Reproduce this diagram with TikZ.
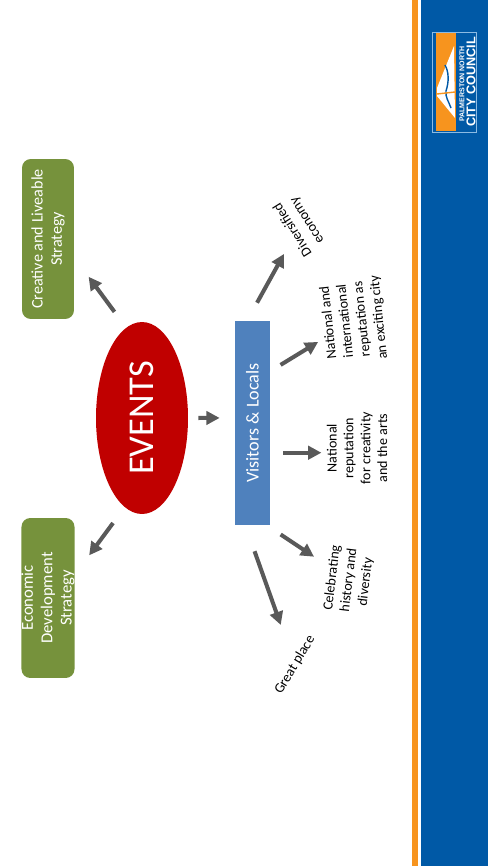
\documentclass[tikz,border=0pt]{standalone}
\usepackage{fontspec}
\setmainfont{Carlito}
\newfontfamily\logofont{Liberation Sans}
\usetikzlibrary{arrows.meta,shapes.geometric}
\definecolor{bannerblue}{HTML}{0059A6}
\definecolor{barorange}{HTML}{F7941E}
\definecolor{logoedge}{HTML}{8CBBE3}
\definecolor{eventsred}{HTML}{C00000}
\definecolor{stratgreen}{HTML}{76923C}
\definecolor{visitblue}{HTML}{4F81BD}
\definecolor{arrowgrey}{HTML}{595959}
\begin{document}
\begin{tikzpicture}[
        x=0.02cm, y=-0.02cm,
        font=\fontsize{8}{9.6}\selectfont,
        strategy/.style={
            rectangle, rounded corners=5pt, fill=stratgreen,
            text=white, rotate=90, align=center,
            minimum width=3.2cm, minimum height=1.04cm, inner sep=0pt
        },
        outcome/.style={align=center, inner sep=0pt, text=black},
        arr/.style={
            -{Triangle[length=7.5pt,width=7.5pt]},
            line width=2.3pt, color=arrowgrey
        }
    ]
    \useasboundingbox (0, 0) rectangle (488, 866);

    % Banner on the right
    \fill[barorange] (412, 0) rectangle (418, 866);
    \fill[bannerblue] (421, 0) rectangle (488, 866);

    % Logo
    \fill[logoedge] (432, 32) rectangle (477, 133);
    \fill[bannerblue] (433, 33) rectangle (476, 132);
    \fill[barorange] (436, 33) rectangle (456, 131);
    \fill[white] (454, 46) -- (437, 88) -- (437, 96) -- (455, 118) -- cycle;
    \draw[bannerblue, thick] (445, 65) .. controls (449, 72) and (449, 82) .. (446, 91)
        .. controls (445, 97) and (449, 102) .. (451, 108);
    \draw[barorange, thick] (437, 94) -- (455, 92);
    \node[font=\logofont\bfseries\fontsize{4}{5}\selectfont, text=white, rotate=90,
        inner sep=0pt] (logotop) at (462, 84) {PALMERSTON NORTH};
    \node[font=\logofont\bfseries\fontsize{7.2}{8}\selectfont, text=white, rotate=90,
        inner sep=0pt] (logomain) at (471, 82) {CITY COUNCIL};

    % Centre
    \node[ellipse, fill=eventsred, text=white, rotate=90, inner sep=0pt,
        minimum width=3.84cm, minimum height=1.84cm,
        font=\fontsize{20.7}{24}\selectfont] (events) at (142, 418) {EVENTS};
    \node[rectangle, fill=visitblue, text=white, rotate=90, inner sep=0pt,
        minimum width=4.08cm, minimum height=0.7cm,
        font=\fontsize{10.3}{12}\selectfont] (visitors) at (252.5, 423) {Visitors \& Locals};

    % Strategies
    \node[strategy, font=\fontsize{9.2}{11}\selectfont] (creative) at (48, 239)
        {Creative and Liveable\\Strategy};
    \node[strategy, font=\fontsize{9.5}{11}\selectfont] (economic) at (48, 598)
        {Economic\\Development\\Strategy};

    % Outcomes
    \node[outcome, rotate=122] (diversified) at (300, 225) {Diversified\\economy};
    \node[outcome, rotate=96] (natint) at (354, 320)
        {National and\\international\\reputation as\\an exciting city};
    \node[outcome, rotate=90] (natrep) at (357, 448)
        {National\\reputation\\for creativity\\and the arts};
    \node[outcome, rotate=83] (celebrating) at (349, 580)
        {Celebrating\\history and\\diversity};
    \node[outcome, rotate=59] (great) at (295, 665) {Great place};

    % Arrows out of events
    \draw[arr, shorten <=0.39cm, shorten >=0.48cm] (events.10.5) -- (creative.-125.6);
    \draw[arr, shorten <=0.39cm, shorten >=0.48cm] (events.169.5) -- (economic.-49.8);
    \draw[arr, shorten <=0.2cm, shorten >=0.3cm] (events.south) -- (visitors.74);

    % Arrows out of visitors
    \draw[arr, shorten <=0.41cm, shorten >=0.66cm] (visitors.3.5) -- (diversified.center);
    \draw[arr, shorten <=0.24cm, shorten >=0.84cm] (visitors.-19.1) -- (natint.center);
    \draw[arr, shorten <=0.26cm, shorten >=0.1cm]
        (visitors.-149.7) -- (visitors.-149.7 -| natrep.north);
    \draw[arr, shorten <=0.33cm, shorten >=0.84cm] (visitors.-172) -- (celebrating.center);
    \draw[arr, shorten <=0.55cm, shorten >=0.85cm] (visitors.176.1) -- (great.center);

\end{tikzpicture}
\end{document}
